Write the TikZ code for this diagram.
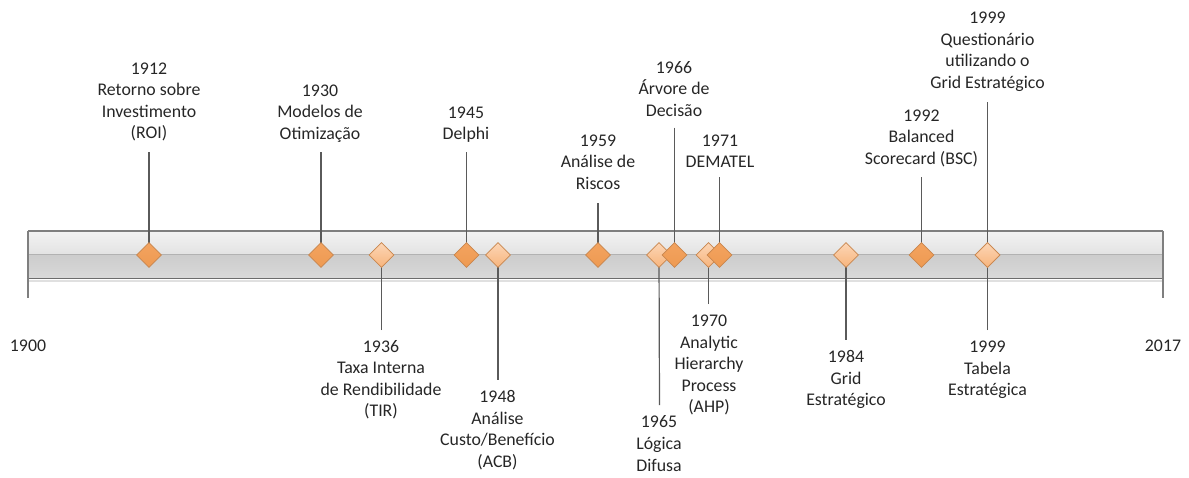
\documentclass[tikz,border=0pt]{standalone}
\usepackage{fontspec}
\setmainfont{Carlito}
\usetikzlibrary{shapes.geometric}
\definecolor{txt}{HTML}{262626}
\definecolor{stem}{HTML}{5A5A5A}
\definecolor{barline}{HTML}{7F7F7F}
\definecolor{orgdark}{HTML}{F3A35F}
\definecolor{orgdarkb}{HTML}{EE9A52}
\definecolor{orglight}{HTML}{FCD6B6}
\definecolor{orglightb}{HTML}{F7B47C}
\definecolor{orgedge}{HTML}{C8864E}
\tikzset{
  % base anchor of a multi-line label = baseline of its last line
  lbl/.style={anchor=base, align=center, inner sep=0pt, text=txt,
    font=\fontsize{17.8}{21.6}\selectfont},
  stemline/.style={draw=stem, line width=1.2pt},
  evdark/.style={shape=diamond, minimum width=25pt, minimum height=25pt,
    inner sep=0pt, draw=orgedge, line width=0.6pt,
    top color=orgdark, bottom color=orgdarkb},
  evlight/.style={shape=diamond, minimum width=25pt, minimum height=25pt,
    inner sep=0pt, draw=orgedge, line width=0.6pt,
    top color=orglight, bottom color=orglightb},
}
\begin{document}
\begin{tikzpicture}[x=1pt,y=-1pt]
\useasboundingbox (0,0) rectangle (1189,477);

% timeline bar
\shade[top color=white!95!black, bottom color=white!89!black] (28,231) rectangle (1163,254);
\shade[top color=white!80!black, bottom color=white!85!black] (28,254) rectangle (1163,278);
\draw[white!88!black, line width=2pt] (29,280.5) -- (1163,280.5);
\draw[barline, line width=1.3pt] (28,231) -- (1163,231);
\draw[white!70!black, line width=0.6pt] (28,254) -- (1163,254);
\draw[barline!85!black, line width=1.6pt] (28,278.5) -- (1163,278.5);

% end points of the axis
\coordinate (axL) at (28,231);
\coordinate (axR) at (1163,231);
\coordinate (tkL) at (28,298);
\coordinate (tkR) at (1163,298);
\draw[stemline, barline] (axL) -- (tkL);
\draw[stemline, barline] (axR) -- (tkR);
\node[lbl] (y1900) at (28,351) {1900};
\node[lbl] (y2017) at (1163,351) {2017};

% labels above the bar
\node[lbl] (l1912) at (149,138.8) {1912\\Retorno sobre\\Investimento\\(ROI)};
\node[lbl] (l1930) at (320,139.2) {1930\\Modelos de\\Otimização};
\node[lbl] (l1945) at (466,139.6) {1945\\Delphi};
\node[lbl] (l1959) at (598,189.2) {1959\\Análise de\\Riscos};
\node[lbl] (l1966) at (674,116.2) {1966\\Árvore de\\Decisão};
\node[lbl] (l1971) at (720,167.6) {1971\\DEMATEL};
\node[lbl] (l1992) at (921.5,164.2) {1992\\Balanced\\Scorecard (BSC)};
\node[lbl] (l1999a) at (987.5,88.3) {1999\\Questionário\\utilizando o\\Grid Estratégico};

% labels below the bar
\node[lbl] (l1936) at (381,416.8) {1936\\Taxa Interna\\de Rendibilidade\\(TIR)};
\node[lbl] (l1948) at (497.5,467.3) {1948\\Análise\\Custo/Benefício\\(ACB)};
\node[lbl] (l1965) at (659,471) {1965\\Lógica\\Difusa};
\node[lbl] (l1970) at (709,412.9) {1970\\Analytic\\Hierarchy\\Process\\(AHP)};
\node[lbl] (l1984) at (846,405.7) {1984\\Grid\\Estratégico};
\node[lbl] (l1999b) at (987.5,395.7) {1999\\Tabela\\Estratégica};

% free ends of the stems
\coordinate (s1912) at (149,152);
\coordinate (s1930) at (321,152);
\coordinate (s1945) at (466.5,152);
\coordinate (s1959) at (598,203);
\coordinate (s1966) at (674.5,127.5);
\coordinate (s1971) at (719.5,177);
\coordinate (s1992) at (921.5,177);
\coordinate (s1999a) at (987.5,102);
\coordinate (s1936) at (381.5,330);
\coordinate (s1948) at (498,379.5);
\coordinate (s1965) at (659.5,405);
\coordinate (s1970) at (708.5,304);
\coordinate (s1984) at (846,339.5);
\coordinate (s1999b) at (987.5,330);

% event positions on the bar
\path
  (149,255) coordinate (p1912)
  (321,255) coordinate (p1930)
  (381.5,255) coordinate (p1936)
  (466.5,255) coordinate (p1945)
  (498,255) coordinate (p1948)
  (598,255) coordinate (p1959)
  (659,255) coordinate (p1965)
  (674.5,255) coordinate (p1966)
  (708.5,255) coordinate (p1970)
  (719.5,255) coordinate (p1971)
  (846,255) coordinate (p1984)
  (921.5,255) coordinate (p1992)
  (987.5,255) coordinate (p1999);

% stems
\foreach \e in {1912,1930,1936,1945,1948,1959,1965,1966,1970,1971,1984,1992}
  \draw[stemline] (s\e) -- (p\e);
\draw[stemline] (s1999a) -- (p1999);
\draw[stemline] (s1999b) -- (p1999);

% diamonds
\node[evdark]  (d1912) at (p1912) {};
\node[evdark]  (d1930) at (p1930) {};
\node[evlight] (d1936) at (p1936) {};
\node[evdark]  (d1945) at (p1945) {};
\node[evlight] (d1948) at (p1948) {};
\node[evdark]  (d1959) at (p1959) {};
\node[evlight] (d1965) at (p1965) {};
\node[evdark]  (d1966) at (p1966) {};
\node[evlight] (d1970) at (p1970) {};
\node[evdark]  (d1971) at (p1971) {};
\node[evlight] (d1984) at (p1984) {};
\node[evdark]  (d1992) at (p1992) {};
\node[evdark]  (d1999a) at (p1999) {};
\node[evlight] (d1999b) at (p1999) {};
\end{tikzpicture}
\end{document}
